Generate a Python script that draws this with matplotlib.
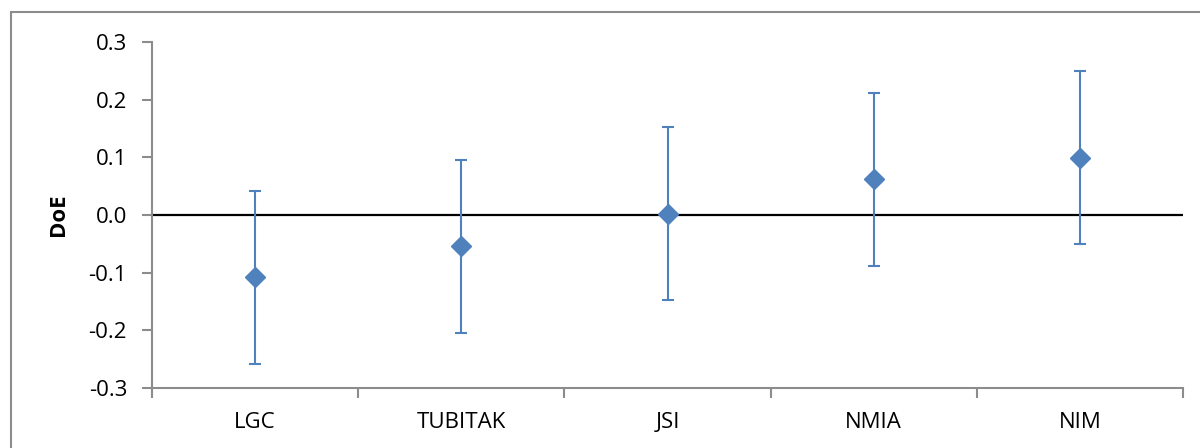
import numpy as np
import matplotlib.pyplot as plt
from matplotlib.patches import Rectangle

labs = ['LGC', 'TUBITAK', 'JSI', 'NMIA', 'NIM']
doe = [-0.108, -0.054, 0.002, 0.062, 0.099]
unc = [0.150, 0.150, 0.150, 0.150, 0.150]
yticks = [-0.3, -0.2, -0.1, 0.0, 0.1, 0.2, 0.3]

plt.rcParams['font.family'] = ['Open Sans', 'DejaVu Sans']

W, H = 1200, 448
fig = plt.figure(figsize=(12, 4.48), dpi=100)
ax = fig.add_axes([152 / W, 1 - 388 / H, (1183 - 152) / W, (388 - 42) / H])

# chart border (only top and left show in the picture)
fig.patches.append(Rectangle((11 / W, -0.1), 1.2, 1 - 12 / H + 0.1,
                             transform=fig.transFigure, fill=False,
                             edgecolor='#8c8c8c', linewidth=1.5))

blue = '#4F81BD'
x = np.arange(len(labs))
ax.errorbar(x, doe, yerr=unc, fmt='D', color=blue, ecolor=blue,
            markersize=10, elinewidth=1.5, capsize=4.5, capthick=1.5, zorder=3)
ax.axhline(0, color='black', linewidth=1.6, zorder=2)

ax.set_xlim(-0.5, len(labs) - 0.5)
ax.set_ylim(-0.3, 0.3)
ax.set_yticks(yticks)
ax.set_yticklabels([f'{v:.1f}' for v in yticks], fontsize=16)
ax.set_xticks(x)
ax.set_xticklabels(labs, fontsize=16)
ax.set_xticks(np.arange(len(labs) + 1) - 0.5, minor=True)
ax.tick_params(axis='x', which='major', length=0, pad=17)
ax.tick_params(axis='x', which='minor', length=7, color='#8c8c8c', width=1.5)
ax.tick_params(axis='y', length=7, color='#8c8c8c', width=1.5, pad=11)

for s in ['top', 'right']:
    ax.spines[s].set_visible(False)
for s in ['left', 'bottom']:
    ax.spines[s].set_color('#8c8c8c')
    ax.spines[s].set_linewidth(1.5)

ax.set_ylabel('DoE', fontsize=16, fontweight='bold', labelpad=14)

fig.savefig('out.png', dpi=100)
